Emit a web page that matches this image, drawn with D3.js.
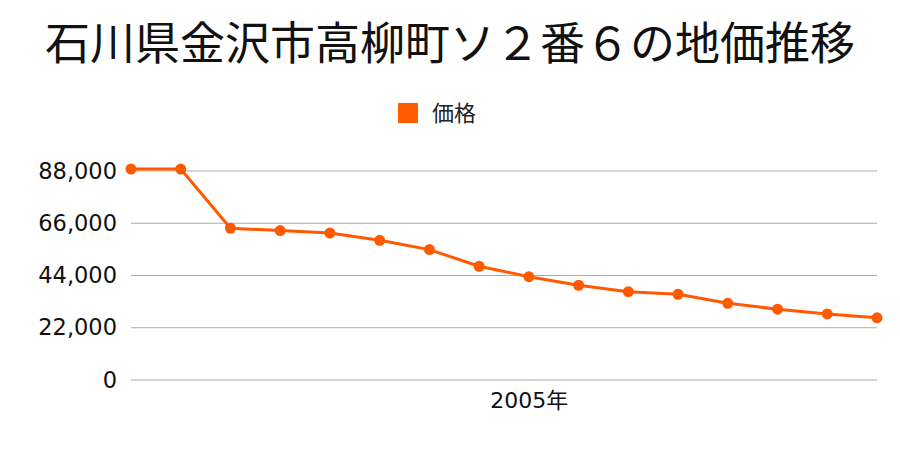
<!DOCTYPE html>
<html><head><meta charset="utf-8">
<script src="https://cdn.jsdelivr.net/npm/d3@7"></script>
<style>body{margin:0;background:#fff}</style>
</head><body><svg id="c" width="900" height="450"></svg>
<script>
const title = "石川県金沢市高柳町ソ２番６の地価推移";
const seriesName = "価格";
const years = [1997,1998,1999,2000,2001,2002,2003,2004,2005,2006,2007,2008,2009,2010,2011,2012];
const values = [88800,88800,63900,62900,61900,58800,54900,47900,43500,39900,37200,36100,32300,29800,27800,26200];
const yTicks = [0,22000,44000,66000,88000];
const xLabelYears = [2005];
const color = "#ff5a00";
const fontLat = "'DejaVu Sans','Noto Sans CJK JP',sans-serif";
const fontCJK = "'Noto Sans CJK JP',sans-serif";

const svg = d3.select("#c");
const x = d3.scalePoint().domain(years).range([131,877]);
const y = d3.scaleLinear().domain([0,88000]).range([380,171]);

svg.append("text").attr("x",450).attr("y",60).attr("text-anchor","middle")
  .style("font-family",fontCJK).style("font-size","45px").attr("fill","#111").text(title);

svg.append("rect").attr("x",398).attr("y",103).attr("width",20).attr("height",20).attr("fill",color);
svg.append("text").attr("x",432).attr("y",121).style("font-family",fontCJK).style("font-size","22px")
  .attr("fill","#222").text(seriesName);

svg.append("g").selectAll("line").data(yTicks).join("line")
  .attr("x1",131).attr("x2",877).attr("y1",d=>y(d)).attr("y2",d=>y(d))
  .attr("stroke","#aaa").attr("stroke-width",1);

const yAxis = d3.axisLeft(y).tickValues(yTicks).tickFormat(d3.format(",")).tickSize(0).tickPadding(14);
const gy = svg.append("g").attr("transform","translate(131,0)").call(yAxis);
gy.select(".domain").remove();
gy.selectAll("text").style("font-size","22.5px").style("font-family",fontLat).attr("fill","#111");

const xAxis = d3.axisBottom(x).tickValues(xLabelYears).tickFormat(d=>d+"年").tickSize(0).tickPadding(12);
const gx = svg.append("g").attr("transform","translate(0,380)").call(xAxis);
gx.select(".domain").remove();
gx.selectAll("text").style("font-size","22px").style("font-family",fontLat).attr("fill","#111");

const data = years.map((yr,i)=>({yr,v:values[i]}));
svg.append("path").datum(data).attr("fill","none").attr("stroke",color).attr("stroke-width",3)
  .attr("d",d3.line().x(d=>x(d.yr)).y(d=>y(d.v)));
svg.append("g").selectAll("circle").data(data).join("circle")
  .attr("cx",d=>x(d.yr)).attr("cy",d=>y(d.v)).attr("r",5.5).attr("fill",color);
</script></body></html>
